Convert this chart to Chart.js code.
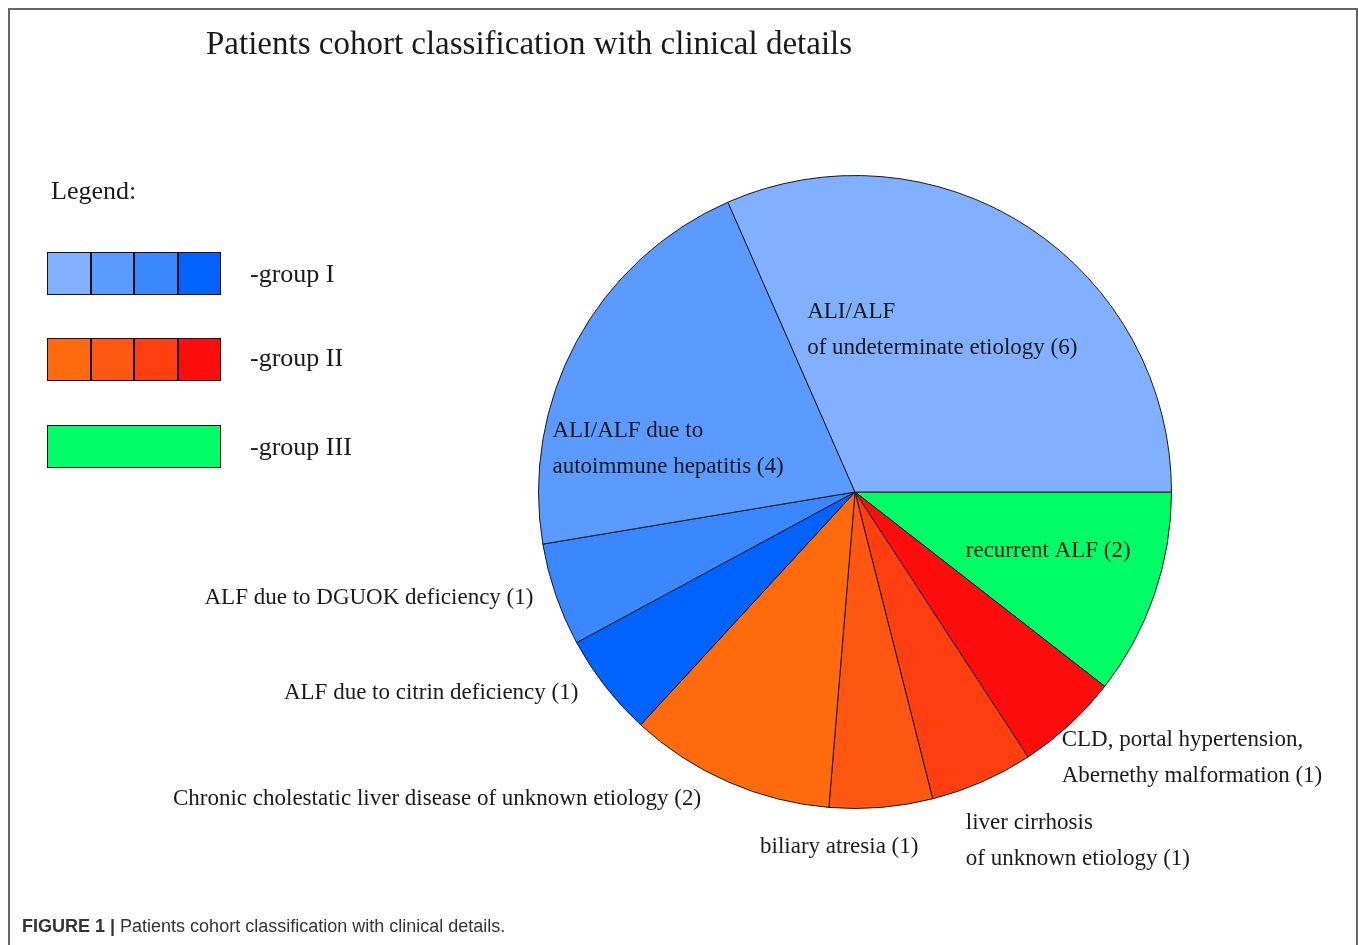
<!DOCTYPE html>
<html lang="en">
<head>
  <meta charset="UTF-8">
  <title>Patients cohort classification</title>
  <script src="https://cdn.jsdelivr.net/npm/chart.js"></script>
  <style>
    body { margin: 0; background: #fff; font-family: "Liberation Serif", "Times New Roman", serif; color: #1a1a1a; }
    #frame { position: absolute; left: 8px; top: 8px; width: 1346px; height: 960px; border: 2px solid #666; border-bottom: none; }
    #wrap { position: absolute; left: 0; top: 0; width: 1358px; height: 945px; }
    #title { position: absolute; left: 206px; top: 25px; font-size: 33px; white-space: nowrap; }
    .lg { position: absolute; font-size: 26px; white-space: nowrap; }
    .box { position: absolute; left: 47px; width: 172px; height: 41px; border: 1px solid #111; display: flex; }
    .box div { flex: 1; border-left: 2px solid #111; }
    .box div:first-child { border-left: none; }
    #caption { position: absolute; left: 22px; top: 916px; font-family: "Liberation Sans", Arial, sans-serif; font-size: 18px; color: #333; white-space: nowrap; }
  </style>
</head>
<body>
  <div id="frame"></div>
  <div id="wrap"><canvas id="myChart" width="1358" height="945"></canvas></div>
  <div id="title">Patients cohort classification with clinical details</div>

  <div class="lg" style="left:51px; top:176px;">Legend:</div>
  <div class="box" id="g1" style="top:252px;"></div>
  <div class="lg" style="left:250px; top:259px;">-group I</div>
  <div class="box" id="g2" style="top:338px;"></div>
  <div class="lg" style="left:250px; top:343px;">-group II</div>
  <div class="box" id="g3" style="top:425px;"></div>
  <div class="lg" style="left:250px; top:432px;">-group III</div>

  <div id="caption"><b>FIGURE 1 |</b> Patients cohort classification with clinical details.</div>

  <script>
    // du lieu: liet ke theo chieu kim dong ho, bat dau tu huong 3 gio
    const labels = [
      ['recurrent ALF (2)'],
      ['CLD, portal hypertension,', 'Abernethy malformation (1)'],
      ['liver cirrhosis', 'of unknown etiology (1)'],
      ['biliary atresia (1)'],
      ['Chronic cholestatic liver disease of unknown etiology (2)'],
      ['ALF due to citrin deficiency (1)'],
      ['ALF due to DGUOK deficiency (1)'],
      ['ALI/ALF due to', 'autoimmune hepatitis (4)'],
      ['ALI/ALF', 'of undeterminate etiology (6)']
    ];
    const counts = [2, 1, 1, 1, 2, 1, 1, 4, 6];
    const colors = ['#00FF66', '#FF0D0D', '#FF3F10', '#FF5612', '#FF6A0C', '#0062FF', '#3A87FF', '#5B9AFF', '#80B0FF'];

    const group1 = ['#80B0FF', '#5B9AFF', '#3A87FF', '#0062FF'];
    const group2 = ['#FF6A0C', '#FF5612', '#FF3F10', '#FF0D0D'];
    const group3 = ['#00FF66'];

    // vi tri nhan: [dx/r, dy/r, canh le]
    const labelPos = [
      [0.350, 0.186, 'left'],
      [0.653, 0.785, 'left'],
      [0.350, 1.047, 'left'],
      [-0.300, 1.123, 'left'],
      [-0.486, 0.971, 'right'],
      [-0.874, 0.634, 'right'],
      [-1.016, 0.334, 'right'],
      [-0.956, -0.193, 'left'],
      [-0.151, -0.568, 'left']
    ];

    function fillBox(id, cols) {
      const el = document.getElementById(id);
      cols.forEach(c => {
        const d = document.createElement('div');
        d.style.background = c;
        el.appendChild(d);
      });
    }
    fillBox('g1', group1);
    fillBox('g2', group2);
    fillBox('g3', group3);

    const sliceLabels = {
      id: 'sliceLabels',
      afterDatasetsDraw(chart) {
        const ctx = chart.ctx;
        const arcs = chart.getDatasetMeta(0).data;
        ctx.save();
        ctx.font = '23px "Liberation Serif", "Times New Roman", serif';
        ctx.fillStyle = '#1a1a1a';
        ctx.textBaseline = 'middle';
        arcs.forEach((arc, i) => {
          const r = arc.outerRadius;
          const p = labelPos[i];
          ctx.textAlign = p[2];
          labels[i].forEach((line, k) => {
            ctx.fillText(line, arc.x + p[0] * r, arc.y + p[1] * r + k * 36);
          });
        });
        ctx.restore();
      }
    };

    new Chart(document.getElementById('myChart'), {
      type: 'pie',
      data: {
        labels: labels.map(l => l.join(' ')),
        datasets: [{
          data: counts,
          backgroundColor: colors,
          borderColor: '#1a1a1a',
          borderWidth: 1,
          hoverOffset: 0
        }]
      },
      options: {
        responsive: false,
        animation: false,
        rotation: 90,
        layout: { padding: { left: 538, right: 186, top: 175, bottom: 136 } },
        plugins: { legend: { display: false }, tooltip: { enabled: false } }
      },
      plugins: [sliceLabels]
    });
  </script>
</body>
</html>
